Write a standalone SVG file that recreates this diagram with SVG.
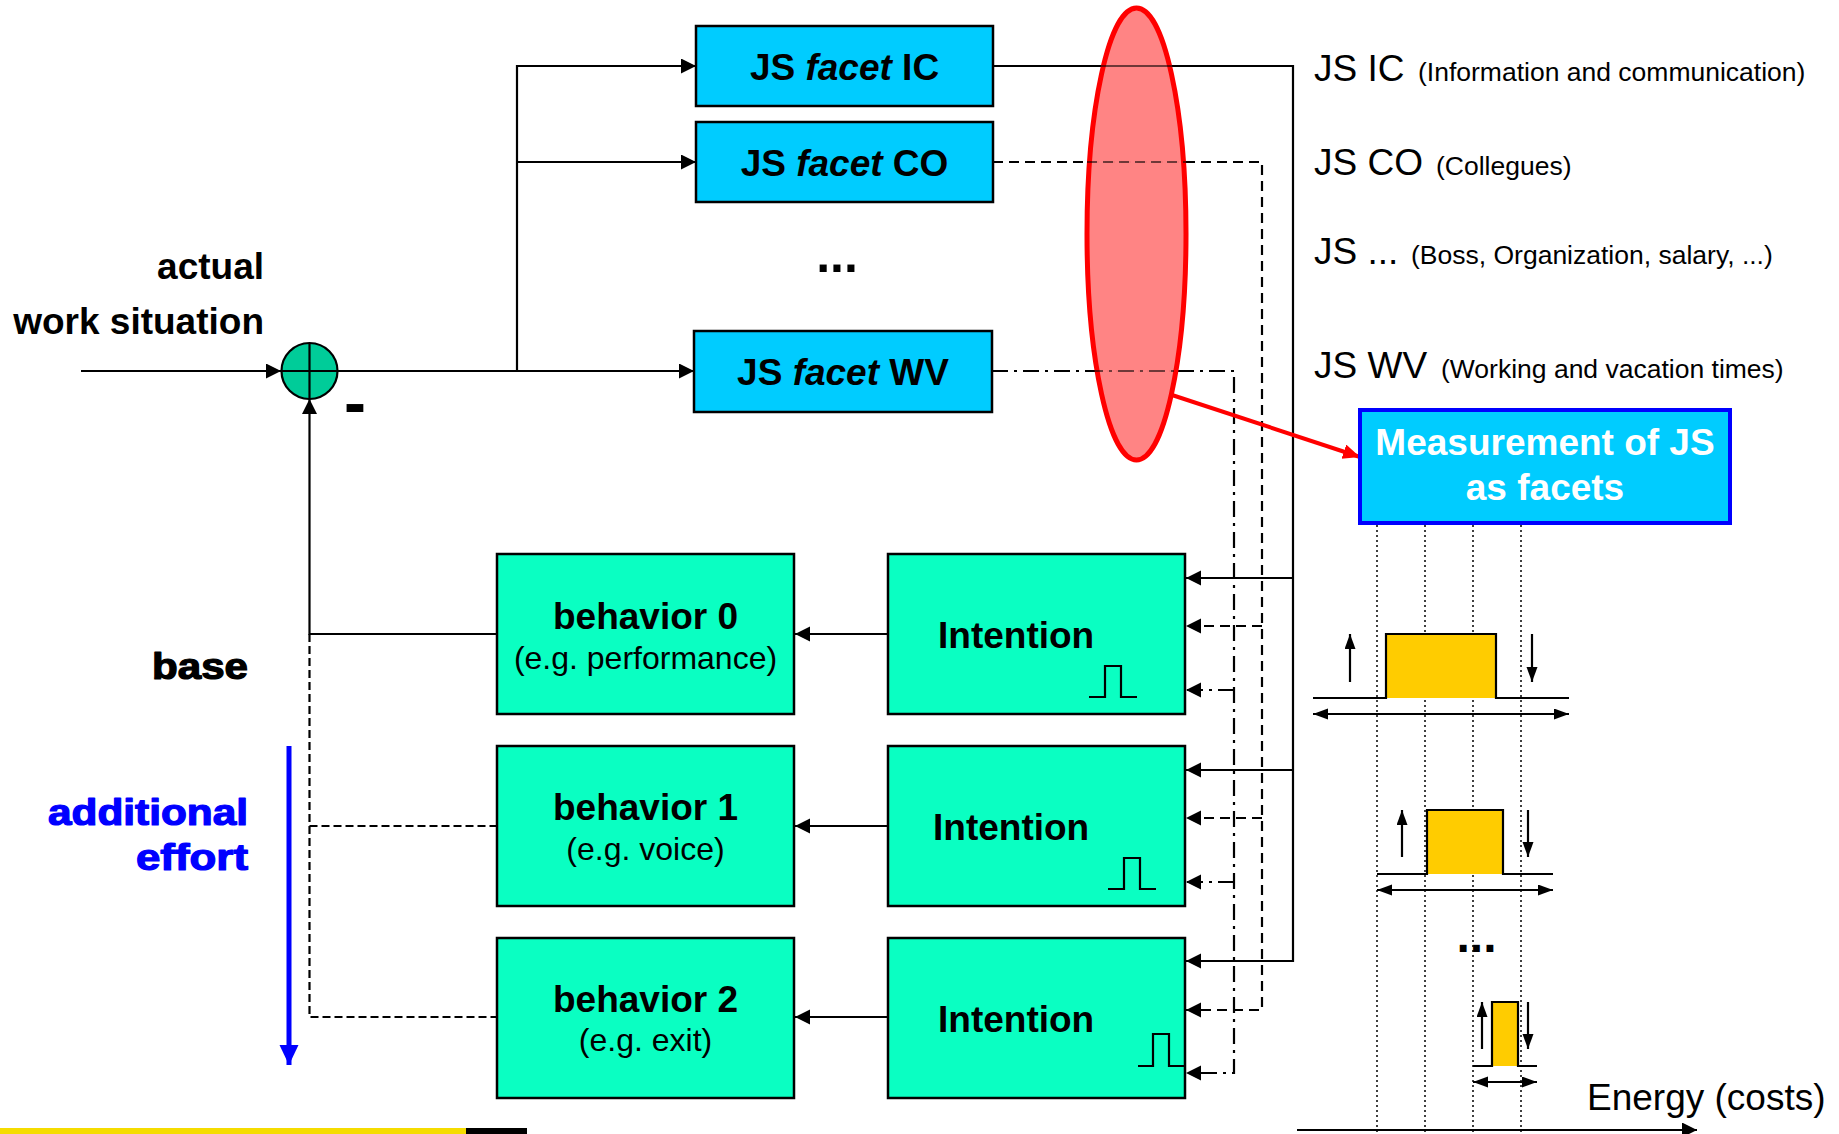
<svg xmlns="http://www.w3.org/2000/svg" width="1839" height="1134" viewBox="0 0 1839 1134">
<defs>
<style>
text{font-family:"Liberation Sans",Arial,sans-serif;fill:#000}
.b{font-weight:bold}
.it{font-style:italic}
.facet{fill:#00ccff;stroke:#000;stroke-width:2.5}
.green{fill:#0affc2;stroke:#000;stroke-width:2.5}
.ln{fill:none;stroke:#000;stroke-width:2.2}
.dash{stroke-dasharray:10 6}
.dashdot{stroke-dasharray:16 6 3 6}
.fb{stroke-dasharray:8 4}
.dot{fill:none;stroke:#000;stroke-width:1.5;stroke-dasharray:2 3}
.pulse{fill:none;stroke:#000;stroke-width:2.2}
.bigt{font-size:37px}
.small{font-size:26.5px}
.heavy{font-weight:bold;stroke-width:1.2;stroke-linejoin:round}
</style>
<marker id="ah" markerUnits="userSpaceOnUse" markerWidth="16" markerHeight="16" refX="15" refY="7.5" orient="auto"><path d="M0,0 L15,7.5 L0,15 z" fill="#000"/></marker>
<marker id="ahs" markerUnits="userSpaceOnUse" markerWidth="16" markerHeight="12" refX="15" refY="5.5" orient="auto-start-reverse"><path d="M0,0 L15,5.5 L0,11 z" fill="#000"/></marker>
<marker id="ahr" markerUnits="userSpaceOnUse" markerWidth="18" markerHeight="16" refX="17" refY="7.5" orient="auto"><path d="M0,0 L17,7.5 L0,15 z" fill="#ff0000"/></marker>
<marker id="ahb" markerUnits="userSpaceOnUse" markerWidth="21" markerHeight="20" refX="20" refY="9.5" orient="auto"><path d="M0,0 L20,9.5 L0,19 z" fill="#0000ff"/></marker>
</defs>
<rect width="1839" height="1134" fill="#fff"/>

<g id="connectors">
  <path class="ln" d="M81,371 H281" marker-end="url(#ah)"/>
  <path class="ln" d="M337,371 H694" marker-end="url(#ah)"/>
  <path class="ln" d="M517,371 V66 H696" marker-end="url(#ah)"/>
  <path class="ln" d="M517,162 H696" marker-end="url(#ah)"/>
  <path class="ln" d="M993,66 H1293 V961 H1186" marker-end="url(#ah)"/>
  <path class="ln" d="M1293,578 H1186" marker-end="url(#ah)"/>
  <path class="ln" d="M1293,770 H1186" marker-end="url(#ah)"/>
  <path class="ln dash" d="M993,162 H1262 V1010 H1186" marker-end="url(#ah)"/>
  <path class="ln dash" d="M1262,626 H1186" marker-end="url(#ah)"/>
  <path class="ln dash" d="M1262,818 H1186" marker-end="url(#ah)"/>
  <path class="ln dashdot" d="M992,371 H1234 V1073 H1186" marker-end="url(#ah)"/>
  <path class="ln dashdot" d="M1234,690 H1186" marker-end="url(#ah)"/>
  <path class="ln dashdot" d="M1234,882 H1186" marker-end="url(#ah)"/>
  <path class="ln" d="M888,634 H795" marker-end="url(#ah)"/>
  <path class="ln" d="M888,826 H795" marker-end="url(#ah)"/>
  <path class="ln" d="M888,1017 H795" marker-end="url(#ah)"/>
  <path class="ln" d="M497,634 H309.5 V399" marker-end="url(#ah)"/>
  <path class="ln fb" d="M309.5,634 V1017 H497"/>
  <path class="ln fb" d="M309.5,826 H497"/>
  <path d="M1172,395 L1360,457" fill="none" stroke="#ff0000" stroke-width="4" marker-end="url(#ahr)"/>
  <path d="M289,746 V1065" fill="none" stroke="#0000ff" stroke-width="5" marker-end="url(#ahb)"/>
  <path class="ln" d="M1297,1130 H1697" marker-end="url(#ah)"/>
</g>

<g id="sum-junction">
  <circle cx="309.5" cy="371" r="28" fill="#00cc99" stroke="#000" stroke-width="2.2"/>
  <path d="M309.5,343 V399 M281.5,371 H337.5" stroke="#000" stroke-width="2.2"/>
  <text x="344" y="425" class="b" font-size="66">-</text>
</g>

<g id="label-actual">
  <text x="264" y="279" class="b bigt" text-anchor="end">actual</text>
  <text x="264" y="334" class="b bigt" text-anchor="end">work situation</text>
</g>

<g id="facet-ic">
  <rect class="facet" x="696" y="26" width="297" height="80"/>
  <text x="844.5" y="80" class="b bigt" text-anchor="middle" xml:space="preserve">JS <tspan class="it">facet</tspan> IC</text>
</g>
<g id="facet-co">
  <rect class="facet" x="696" y="122" width="297" height="80"/>
  <text x="844.5" y="176" class="b bigt" text-anchor="middle" xml:space="preserve">JS <tspan class="it">facet</tspan> CO</text>
</g>
<g id="facet-dots">
  <text x="837" y="272" class="b" font-size="50" text-anchor="middle">...</text>
</g>
<g id="facet-wv">
  <rect class="facet" x="694" y="331" width="298" height="81"/>
  <text x="843" y="385" class="b bigt" text-anchor="middle" xml:space="preserve">JS <tspan class="it">facet</tspan> WV</text>
</g>

<g id="red-ellipse">
  <ellipse cx="1136.5" cy="234" rx="49.5" ry="226" fill="#ff8080" fill-opacity="0.97" stroke="#ff0000" stroke-width="5"/>
</g>
<g id="connectors-over" opacity="0.55">
  <path class="ln" d="M1087,66 H1186"/>
  <path class="ln dash" d="M1087,162 H1186"/>
  <path class="ln dashdot" d="M1087,371 H1186"/>
</g>

<g id="legend">
  <text x="1314" y="81"><tspan class="bigt">JS IC</tspan><tspan x="1418" class="small">(Information and communication)</tspan></text>
  <text x="1314" y="175"><tspan class="bigt">JS CO</tspan><tspan x="1436" class="small">(Collegues)</tspan></text>
  <text x="1314" y="264"><tspan class="bigt">JS ...</tspan><tspan x="1411" class="small">(Boss, Organization, salary, ...)</tspan></text>
  <text x="1314" y="378"><tspan class="bigt">JS WV</tspan><tspan x="1441" class="small">(Working and vacation times)</tspan></text>
</g>

<g id="measurement">
  <rect x="1360" y="410" width="370" height="113" fill="#00ccff" stroke="#0000ff" stroke-width="4"/>
  <text x="1545" y="455" class="b bigt" text-anchor="middle" style="fill:#fff">Measurement of JS</text>
  <text x="1545" y="500" class="b bigt" text-anchor="middle" style="fill:#fff">as facets</text>
</g>

<g id="behavior-0">
  <rect class="green" x="497" y="554" width="297" height="160"/>
  <text x="645.5" y="629" class="b bigt" text-anchor="middle">behavior 0</text>
  <text x="645.5" y="669" font-size="32" text-anchor="middle">(e.g. performance)</text>
</g>
<g id="behavior-1">
  <rect class="green" x="497" y="746" width="297" height="160"/>
  <text x="645.5" y="820" class="b bigt" text-anchor="middle">behavior 1</text>
  <text x="645.5" y="860" font-size="32" text-anchor="middle">(e.g. voice)</text>
</g>
<g id="behavior-2">
  <rect class="green" x="497" y="938" width="297" height="160"/>
  <text x="645.5" y="1012" class="b bigt" text-anchor="middle">behavior 2</text>
  <text x="645.5" y="1051" font-size="32" text-anchor="middle">(e.g. exit)</text>
</g>

<g id="intention-0">
  <rect class="green" x="888" y="554" width="297" height="160"/>
  <text x="938" y="648" class="b bigt">Intention</text>
  <path class="pulse" d="M1089,697 H1105 V666 H1121 V697 H1137"/>
</g>
<g id="intention-1">
  <rect class="green" x="888" y="746" width="297" height="160"/>
  <text x="933" y="840" class="b bigt">Intention</text>
  <path class="pulse" d="M1108,889 H1124 V858 H1140 V889 H1156"/>
</g>
<g id="intention-2">
  <rect class="green" x="888" y="938" width="297" height="160"/>
  <text x="938" y="1032" class="b bigt">Intention</text>
  <path class="pulse" d="M1138,1066 H1153 V1034 H1169 V1066 H1184"/>
</g>

<g id="label-base">
  <text x="248" y="679" class="heavy" font-size="36" text-anchor="end" textLength="96" lengthAdjust="spacingAndGlyphs" stroke="#000">base</text>
</g>
<g id="label-effort">
  <text x="248" y="825" class="heavy" font-size="36" text-anchor="end" textLength="200" lengthAdjust="spacingAndGlyphs" style="fill:#0000ff" stroke="#0000ff">additional</text>
  <text x="248" y="870" class="heavy" font-size="36" text-anchor="end" textLength="112" lengthAdjust="spacingAndGlyphs" style="fill:#0000ff" stroke="#0000ff">effort</text>
</g>

<g id="energy-chart">
  <path class="dot" d="M1377,525 V1134 M1425,525 V1134 M1473,525 V1134 M1521,525 V1134"/>
  <rect x="1386" y="634" width="110" height="64" fill="#ffcc00"/>
  <path class="pulse" d="M1313,698 H1386 V634 H1496 V698 H1569"/>
  <path class="ln" d="M1350,682 V634" marker-end="url(#ahs)"/>
  <path class="ln" d="M1532,634 V682" marker-end="url(#ahs)"/>
  <path class="ln" d="M1313,714 H1569" marker-start="url(#ahs)" marker-end="url(#ahs)"/>
  <rect x="1427" y="810" width="76" height="64" fill="#ffcc00"/>
  <path class="pulse" d="M1377,874 H1427 V810 H1503 V874 H1553"/>
  <path class="ln" d="M1402,857 V810" marker-end="url(#ahs)"/>
  <path class="ln" d="M1528,810 V857" marker-end="url(#ahs)"/>
  <path class="ln" d="M1377,890 H1553" marker-start="url(#ahs)" marker-end="url(#ahs)"/>
  <text x="1476.5" y="952" class="b" font-size="48" text-anchor="middle">...</text>
  <rect x="1492" y="1002" width="26" height="64" fill="#ffcc00"/>
  <path class="pulse" d="M1473,1066 H1492 V1002 H1518 V1066 H1537"/>
  <path class="ln" d="M1482,1049 V1002" marker-end="url(#ahs)"/>
  <path class="ln" d="M1528,1002 V1049" marker-end="url(#ahs)"/>
  <path class="ln" d="M1473,1082 H1537" marker-start="url(#ahs)" marker-end="url(#ahs)"/>
  <text x="1587" y="1110" class="bigt">Energy (costs)</text>
</g>

<g id="footer-bar">
  <rect x="0" y="1128" width="466" height="6" fill="#f5dc00"/>
  <rect x="466" y="1128" width="61" height="6" fill="#000"/>
</g>
</svg>
